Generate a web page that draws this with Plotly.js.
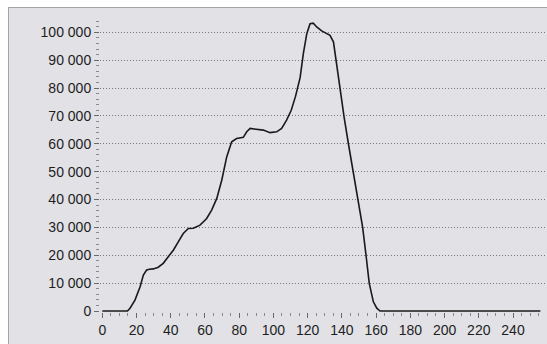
<!DOCTYPE html>
<html>
<head>
<meta charset="utf-8">
<script src="https://cdn.plot.ly/plotly-3.0.1.min.js"></script>
<style>
  html, body { margin: 0; padding: 0; background: #ffffff; }
  #wrap { position: relative; width: 547px; height: 344px; overflow: hidden; }
  #panel { position: absolute; left: 8px; top: 7px; width: 539px; height: 337px;
           background: #e1e1e6; border-top: 1px solid #a3a3a8; border-left: 1px solid #a3a3a8;
           box-sizing: border-box; }
  #chart { position: absolute; left: 0; top: 0; width: 547px; height: 344px; }
</style>
</head>
<body>
<div id="wrap">
  <div id="panel"></div>
  <div id="chart"></div>
</div>
<script>
// Intensity levels (x)
const levels = [0, 14.7, 16.2, 19.1, 22.1, 24.0, 25.9, 27.6, 29.8, 32.7, 35.6, 38.6, 41.6, 44.4, 47.3,
  50.3, 53.2, 57.1, 61.0, 63.9, 66.9, 69.8, 72.7, 75.6, 78.5, 82.4, 84.4, 86.4, 90.2, 94.1, 98.0,
  101.9, 104.8, 107.7, 110.4, 112.9, 115.6, 117.5, 119.5, 121.4, 123.3, 125.3, 128.2, 131.2, 133.1,
  135.1, 136.5, 137.9, 139.9, 141.3, 143.8, 146.7, 149.7, 152.1, 154.1, 156.0, 158.4, 160.4, 162.3, 256];
// Pixel counts (y)
const counts = [0, 0, 1000, 3900, 8700, 12900, 14700, 15000, 15100, 15700, 17100, 19500, 21900, 24800, 27800,
  29600, 29700, 30800, 33200, 36200, 40400, 46900, 55300, 60700, 61900, 62300, 64300, 65500, 65200, 64900, 64000,
  64300, 65500, 68500, 72000, 77000, 83700, 92400, 99500, 103100, 103300, 101900, 100500, 99500, 98900,
  96500, 90000, 84000, 75600, 69600, 60100, 49900, 40000, 30200, 20100, 9900, 3300, 1000, 0, 0];

const xTickVals = [0, 20, 40, 60, 80, 100, 120, 140, 160, 180, 200, 220, 240];
const yTickVals = [0, 10000, 20000, 30000, 40000, 50000, 60000, 70000, 80000, 90000, 100000];

const font = { family: 'Liberation Sans, Arial, sans-serif', size: 14, color: '#1e1e1e' };

Plotly.newPlot('chart', [{
  type: 'scatter', mode: 'lines', x: levels, y: counts,
  line: { color: '#1a1a1a', width: 1.6 },
  hoverinfo: 'skip'
}], {
  width: 547, height: 344,
  margin: { l: 100, r: 2, t: 19, b: 32 },
  paper_bgcolor: 'rgba(0,0,0,0)', plot_bgcolor: 'rgba(0,0,0,0)',
  showlegend: false,
  separators: '. ',
  font: font,
  xaxis: {
    range: [-1.34, 258.7], tickmode: 'array', tickvals: xTickVals,
    showgrid: false, zeroline: false, showline: false,
    ticks: 'outside', ticklen: 5, tickcolor: '#6a6a6a', tickwidth: 1,
    tickfont: font,
    minor: { dtick: 5, tick0: 0, ticks: 'outside', ticklen: 3, tickcolor: '#8a8a8a', showgrid: false }
  },
  yaxis: {
    range: [-359, 104770], tickmode: 'array', tickvals: yTickVals, tickformat: ',d',
    showgrid: true, gridcolor: '#7a7a7a', gridwidth: 1, griddash: '1px,2px',
    zeroline: false, showline: false,
    ticks: 'outside', ticklen: 5, tickcolor: '#6a6a6a', tickwidth: 1,
    tickfont: font,
    minor: { dtick: 2000, tick0: 0, ticks: 'outside', ticklen: 3, tickcolor: '#8a8a8a', showgrid: false }
  }
}, { displayModeBar: false, staticPlot: true });
</script>
</body>
</html>
